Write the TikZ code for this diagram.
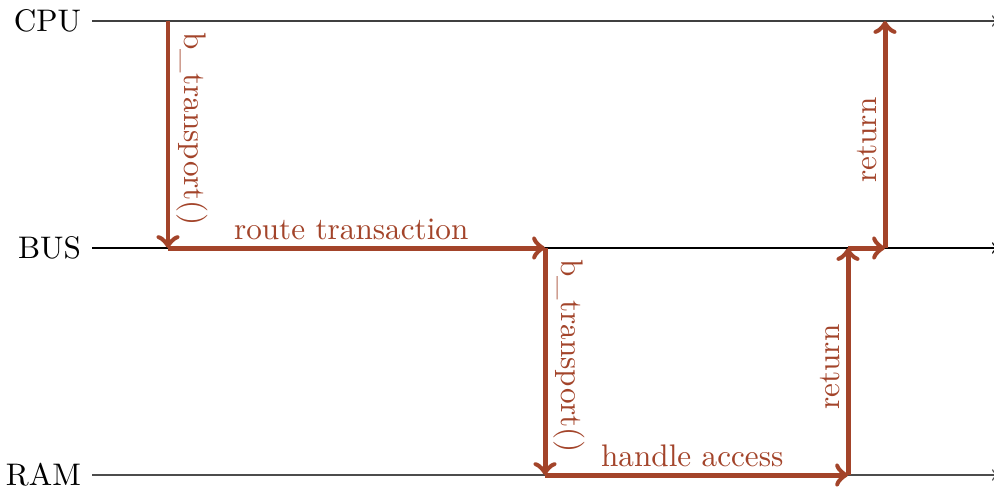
\documentclass[tikz,border=0pt]{standalone}
\usetikzlibrary{arrows}
\definecolor{rust}{RGB}{163,68,42}
\tikzset{
  timeline/.style={->, line width=0.45pt},
  msg/.style={->, rust, line width=1.6pt},
  lbl/.style={text=rust, fill=white, inner sep=1.6pt, sloped, above=0.3pt, pos=0.475},
  hlbl/.style={lbl, pos=0.486},
  actor/.style={anchor=east, text=black}
}
\begin{document}
\begin{tikzpicture}[x=0.3205pt, y=-0.3205pt]
\useasboundingbox (0,0) rectangle (994,489);
% timelines
\coordinate (cpuS) at (92,21);
\coordinate (cpuE) at (998,21);
\coordinate (busS) at (92,248);
\coordinate (busE) at (998,248);
\coordinate (ramS) at (92,475);
\coordinate (ramE) at (998,475);
\node[actor] (CPU) at (cpuS) {CPU};
\node[actor] (BUS) at (busS) {BUS};
\node[actor] (RAM) at (ramS) {RAM};
\draw[timeline, black!75] (cpuS) -- (cpuE);
\draw[timeline, black] (busS) -- (busE);
\draw[timeline, black!70] (ramS) -- (ramE);
% message points
\coordinate (c1) at (168,21);
\coordinate (b1) at (168,248);
\coordinate (b2) at (545,248);
\coordinate (r2) at (545,475);
\coordinate (r3) at (848,475);
\coordinate (b3) at (848,248);
\coordinate (b4) at (885,248);
\coordinate (c4) at (885,21);
\draw[msg] (c1) -- node[lbl] {b\_transport()} (b1);
\draw[msg] (b1) -- node[hlbl] {route transaction} (b2);
\draw[msg] (b2) -- node[lbl] {b\_transport()} (r2);
\draw[msg] (r2) -- node[hlbl] {handle access} (r3);
\draw[msg] (r3) -- node[lbl] {return} (b3);
\draw[msg] (b3) -- (b4);
\draw[msg] (b4) -- node[lbl] {return} (c4);
\end{tikzpicture}
\end{document}
